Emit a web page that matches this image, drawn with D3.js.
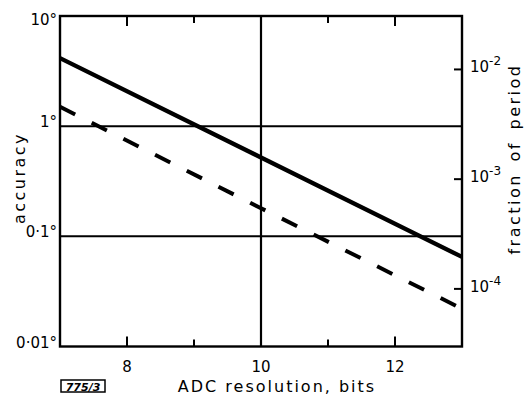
<!DOCTYPE html>
<html>
<head>
<meta charset="utf-8">
<script src="https://cdn.jsdelivr.net/npm/d3@7"></script>
<style>
  body { margin: 0; background: #fff; }
  text { font-family: "DejaVu Sans", sans-serif; fill: #000; }
</style>
</head>
<body>
<div id="chart"></div>
<script>
// data
const bits = [7, 10, 13];
const accSolid = [4.15, 0.52, 0.065];   // degrees
const accDashed = [1.5, 0.18, 0.022];   // degrees
const xTicksMajor = [8, 10, 12];
const xTicksMinor = [9, 11];
const yTicks = [10, 1, 0.1, 0.01];
const yTickLabels = ["10°", "1°", "0·1°", "0·01°"];
const yGrid = [1, 0.1];
const xGrid = [10];
const rTicks = [1e-2, 1e-3, 1e-4];
const rTickExp = ["-2", "-3", "-4"];

const W = 524, H = 395;
const x = d3.scaleLinear().domain([7, 13]).range([60, 462]);
const y = d3.scaleLog().domain([10, 0.01]).range([16, 346.5]);
const yr = d3.scaleLog().domain([Math.pow(10, -1.513), Math.pow(10, -4.525)]).range([16, 346.5]);

const svg = d3.select("#chart").append("svg")
    .attr("width", W)
    .attr("height", H);

// grid lines
svg.selectAll(".hgrid").data(yGrid).enter().append("line")
    .attr("x1", x(7)).attr("x2", x(13))
    .attr("y1", d => y(d)).attr("y2", d => y(d))
    .attr("stroke", "#000").attr("stroke-width", 2);
svg.selectAll(".vgrid").data(xGrid).enter().append("line")
    .attr("x1", d => x(d)).attr("x2", d => x(d))
    .attr("y1", y(10)).attr("y2", y(0.01))
    .attr("stroke", "#000").attr("stroke-width", 2.2);

// frame
svg.append("rect")
    .attr("x", x(7)).attr("y", y(10))
    .attr("width", x(13) - x(7)).attr("height", y(0.01) - y(10))
    .attr("fill", "none").attr("stroke", "#000").attr("stroke-width", 2.4);

// bottom + top ticks (inside)
const ticks = xTicksMajor.filter(d => d !== 10).map(d => ({v: d, len: 10}))
    .concat(xTicksMinor.map(d => ({v: d, len: 7})));
svg.selectAll(".btick").data(ticks).enter().append("line")
    .attr("x1", d => x(d.v)).attr("x2", d => x(d.v))
    .attr("y1", y(0.01)).attr("y2", d => y(0.01) - d.len)
    .attr("stroke", "#000").attr("stroke-width", 2);
svg.selectAll(".ttick").data(ticks).enter().append("line")
    .attr("x1", d => x(d.v)).attr("x2", d => x(d.v))
    .attr("y1", y(10)).attr("y2", d => y(10) + d.len)
    .attr("stroke", "#000").attr("stroke-width", 2);

// right ticks
svg.selectAll(".rtick").data(rTicks).enter().append("line")
    .attr("x1", x(13)).attr("x2", x(13) - 8)
    .attr("y1", d => yr(d)).attr("y2", d => yr(d))
    .attr("stroke", "#000").attr("stroke-width", 2);

// curves
const line = d3.line()
    .x(d => x(d[0]))
    .y(d => y(d[1]));
svg.append("path")
    .datum(d3.zip(bits, accSolid))
    .attr("d", line)
    .attr("fill", "none").attr("stroke", "#000").attr("stroke-width", 4.3);
svg.append("path")
    .datum(d3.zip(bits, accDashed))
    .attr("d", line)
    .attr("fill", "none").attr("stroke", "#000").attr("stroke-width", 4)
    .attr("stroke-dasharray", "17,18.5");

// left tick labels
svg.selectAll(".ylab").data(yTicks).enter().append("text")
    .attr("x", x(7) - 3)
    .attr("y", (d, i) => y(d) + (i === 0 ? 9 : 1))
    .attr("text-anchor", "end")
    .style("font-size", "15px")
    .text((d, i) => yTickLabels[i]);

// bottom tick labels
svg.selectAll(".xlab").data(xTicksMajor).enter().append("text")
    .attr("x", d => x(d))
    .attr("y", 372)
    .attr("text-anchor", "middle")
    .style("font-size", "15px")
    .text(d => d);

// right tick labels
const rl = svg.selectAll(".rlab").data(rTicks).enter().append("text")
    .attr("x", 470)
    .attr("y", d => yr(d) + 3)
    .style("font-size", "15px");
rl.append("tspan").text("10");
rl.append("tspan")
    .attr("dy", -7)
    .style("font-size", "12px")
    .text((d, i) => rTickExp[i]);

// axis titles
svg.append("text")
    .attr("transform", "translate(25,178) rotate(-90)")
    .attr("text-anchor", "middle")
    .style("font-size", "16px")
    .style("letter-spacing", "2.5px")
    .text("accuracy");
svg.append("text")
    .attr("transform", "translate(520,159) rotate(-90)")
    .attr("text-anchor", "middle")
    .style("font-size", "16px")
    .style("letter-spacing", "2.5px")
    .style("word-spacing", "4px")
    .text("fraction of period");
svg.append("text")
    .attr("x", 277)
    .attr("y", 392)
    .attr("text-anchor", "middle")
    .style("font-size", "16px")
    .style("letter-spacing", "2px")
    .text("ADC resolution, bits");

// figure number
svg.append("rect")
    .attr("x", 61).attr("y", 380).attr("width", 44).attr("height", 12)
    .attr("fill", "none").attr("stroke", "#000").attr("stroke-width", 1.5);
svg.append("text")
    .attr("x", 83).attr("y", 390.5)
    .attr("text-anchor", "middle")
    .style("font-size", "11px")
    .style("font-weight", "bold")
    .style("font-style", "italic")
    .text("775/3");
</script>
</body>
</html>
